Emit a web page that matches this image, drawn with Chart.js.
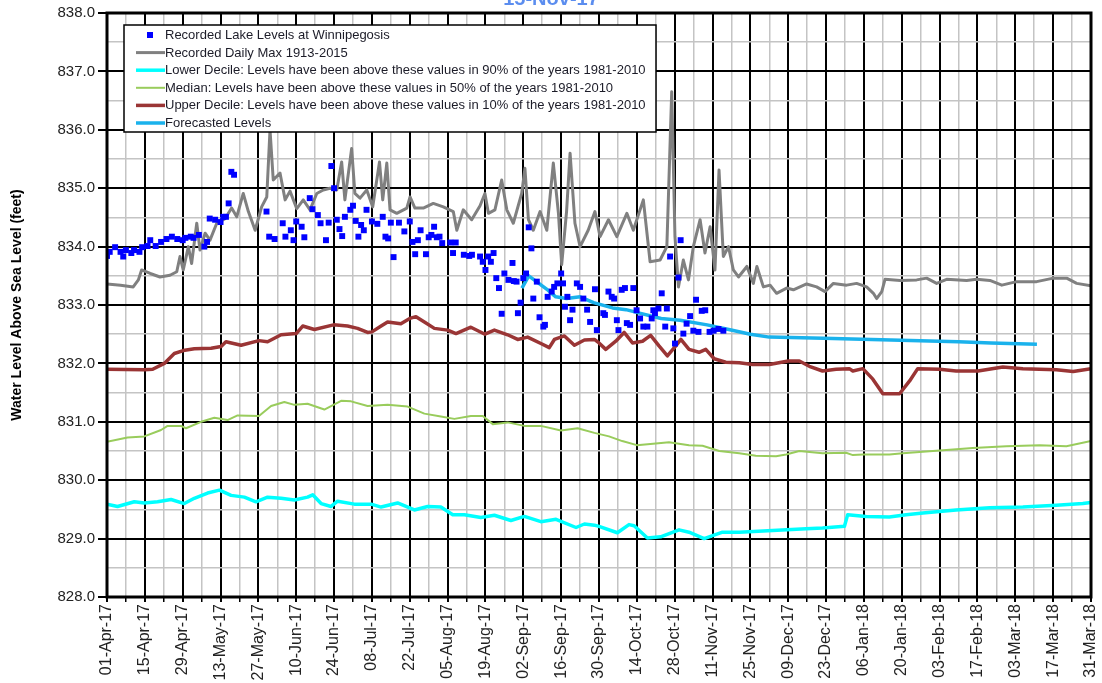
<!DOCTYPE html>
<html>
<head>
<meta charset="utf-8">
<script src="https://cdn.jsdelivr.net/npm/chart.js@4.4.0/dist/chart.umd.min.js"></script>
<style>
  html, body { margin: 0; padding: 0; background: #fff; }
  #wrap { position: relative; width: 1102px; height: 683px; overflow: hidden; }
  #chart { position: absolute; left: 0; top: -20px; }
</style>
</head>
<body>
<div id="wrap"><canvas id="chart" width="1102" height="703"></canvas></div>
<script>
// x values are days since 01-Apr-17
const tickLabels = ["01-Apr-17","15-Apr-17","29-Apr-17","13-May-17","27-May-17","10-Jun-17","24-Jun-17",
  "08-Jul-17","22-Jul-17","05-Aug-17","19-Aug-17","02-Sep-17","16-Sep-17","30-Sep-17","14-Oct-17",
  "28-Oct-17","11-Nov-17","25-Nov-17","09-Dec-17","23-Dec-17","06-Jan-18","20-Jan-18","03-Feb-18",
  "17-Feb-18","03-Mar-18","17-Mar-18","31-Mar-18"];

const lakeDays = [0,1,3,5,6,7,9,10,12,13, 15,16,18,20,22,24,26,28,29,31, 32,34,36,37,38,40,42,43,44,45, 46,47,
  59,60,62,65,66,68,69,70,72,73, 75,76,78,79,81,82,83,84,85,86, 87,88,90,91,92,93,94,95,96,98,
  100,102,103,104,105,106,108,110,112,113, 114,115,116,118,119,120,121,122,123,124,
  127,128,129,132,134,135,138,139,140,141, 142,143,144,145,146,147,148.5,150,150.5,151.5,
  152,153,154,155,156,157,157.7,159,160,161.4, 162,163,164.5,165.4,166.6,168,168.7,169.4,170.3,171.3,
  172.2,173.8,175,176.2,177.6,178.7,180.5,181.2,183.6,184.2, 185.5,186.7,187.6,188.6,189.2,190.4,191.6,192.3,193.5,194.7,
  195.9,197.2,198.4,199.9,201.5,202.1,202.7,204,205.2,206.5, 207.1,208.3,209.5,210.1,211.4,212.2,213.2,214.4,215.7,216.9,
  217.9,218.8,220,221.3,222.9,224.4,226.2,228];
const lakeLevels = [833.84,833.91,833.99,833.91,833.83,833.94,833.89,833.94,833.91,833.99,
  834.01,834.11,834.01,834.08,834.13,834.17,834.13,834.11,834.15,834.17,
  834.15,834.20,834.00,834.08,834.48,834.46,834.42,834.51,834.51,834.74, 835.28,835.23,
  834.60,834.17,834.13,834.40,834.17,834.28,834.11,834.43,834.34,834.16,
  834.83,834.64,834.54,834.40,834.11,834.41,835.38,835.00,834.46,834.30,
  834.18,834.51,834.63,834.70,834.44,834.17,834.37,834.28,834.63,834.43,
  834.39,834.51,834.17,834.14,834.41,833.82,834.41,834.26,834.43,834.08,
  833.87,834.11,834.28,833.87,834.16,834.20,834.34,834.16,834.17,834.06,
  834.07,833.89,834.07,833.86,833.84,833.86,833.83,833.74,833.60,833.83,
  833.74,833.89,833.46,833.29,832.85,833.54,833.43,833.72,833.41,833.40,
  832.86,833.04,833.46,833.54,834.33,833.97,833.11,833.40,832.79,832.63,
  832.66,833.14,833.23,833.31,833.37,833.54,833.37,832.97,833.14,832.74,
  832.92,833.37,833.31,833.11,832.92,832.71,833.27,832.57,832.86,832.83,
  833.23,833.14,833.11,832.74,832.57,833.26,833.29,832.69,832.66,833.29,
  832.91,832.77,832.63,832.63,832.77,832.91,832.86,832.94,833.20,832.63,
  832.94,833.83,832.60,832.34,833.47,834.11,832.51,832.68,832.81,832.56,
  833.09,832.54,832.90,832.91,832.54,832.56,832.59,832.56];

const maxDays = [0,5,9.7,11.6,12.8,16,19.6,23.3,25.8,27,
  28.2,30.1,31.3,33.2,34.4,36.3,38.1,40.6,43.7,46.1,
  48,50.4,52.3,54.8,57.2,59.1,60.3,61.5,64,65.9,
  67.7,70.2,72.6,75.1,77.6,80,82.5,85,86.8,88,
  90.5,91.7,93.6,96.1,98.3,100.8,102,103.5,104.7,107.2,
  110.9,112.1,113.9,117,120.7,124.4,128.1,129.4,131.8,134.9,
  138,139.8,141.1,143.5,146,147.9,150.3,153.4,154.6,155.9,
  157.7,160.2,162.7,165.1,167,168.2,170,171.3,173.1,175,
  178,180.5,182.4,185.5,188.6,192.3,194.7,198.4,200.9,204.6,
  207.1,208.9,210.1,211.4,213.2,215.1,216.9,219.4,221.2,223.1,
  224.9,226.4,228,229.9,231.7,233.6,236.7,239.1,240.4,242.8,
  245.3,247.7,251.4,253.9,258.8,262.5,265.6,268.7,273.6,277.3,
  281,283.5,284.7,286.6,287.8,293.4,299.5,303.2,306.9,310.6,
  318,321.7,326.6,331,336.5,343.9,350.1,355,358.7,364];
const maxLevels = [833.36,833.34,833.31,833.43,833.60,833.54,833.48,833.51,833.57,833.83,
  833.60,834.00,833.71,834.40,833.94,834.23,834.11,834.40,834.48,834.66,
  834.51,834.91,834.60,834.28,834.68,834.85,836.00,835.14,835.26,834.80,
  834.95,834.65,834.80,834.63,834.91,834.97,835.00,834.97,835.45,834.80,
  835.68,834.91,834.83,834.97,834.68,835.45,834.80,835.43,834.63,834.57,
  834.66,834.85,834.66,834.66,834.74,834.68,834.60,834.28,834.63,834.46,
  834.70,834.91,834.57,834.63,835.14,834.63,834.40,834.91,835.34,834.46,
  834.28,834.60,834.28,835.43,834.57,833.69,834.60,835.60,834.40,834.00,
  834.28,834.60,834.17,834.46,834.17,834.57,834.28,834.80,833.74,833.77,
  834.00,836.65,834.17,833.31,833.77,833.43,834.00,834.46,833.89,834.34,
  833.60,835.31,833.83,834.00,833.60,833.48,833.66,833.37,833.66,833.31,
  833.34,833.20,833.29,833.26,833.36,833.31,833.23,833.37,833.34,833.37,
  833.31,833.20,833.11,833.23,833.44,833.42,833.43,833.46,833.37,833.44,
  833.42,833.44,833.42,833.34,833.40,833.40,833.46,833.46,833.37,833.33];

const lowerDays = [0,3.9,10.1,13.8,18.7,23.7,28.6,32.3,37.2,41.6,
  45.9,50.8,55.1,59.4,64.4,69.3,74.2,76.1,79.2,82.9,
  85.3,91.5,97.7,101.4,107.5,113.7,118.6,123.5,127.9,132.2,
  138.3,143.3,149.4,154.4,160.5,166.1,173.5,176.6,180.3,182,
  188.8,193.1,195,199.9,204.8,211.6,215.3,220.9,227.7,233.9,
  246.2,258.6,264.7,272.8,274,280.8,289.4,295.6,301.8,314.1,
  326.5,338.8,351.2,361,364];
const lowerLevels = [829.59,829.55,829.63,829.61,829.63,829.67,829.60,829.69,829.78,829.83,
  829.74,829.71,829.63,829.71,829.69,829.66,829.71,829.75,829.60,829.55,
  829.64,829.59,829.59,829.54,829.61,829.49,829.55,829.54,829.41,829.41,
  829.36,829.40,829.31,829.38,829.29,829.33,829.19,829.25,829.23,829.21,
  829.10,829.24,829.22,829.01,829.03,829.15,829.11,829.00,829.11,829.11,
  829.14,829.17,829.18,829.21,829.41,829.38,829.37,829.41,829.44,829.49,
  829.53,829.54,829.57,829.60,829.62];

const medianDays = [0,7.6,13.8,20,22.4,27.4,29.2,34.8,39.7,44.6,
  48.3,56.2,60.7,65.6,69.3,74.2,80.4,86.6,90.3,96.4,
  103.8,111.2,117.4,123.5,128.5,134.6,139,142.7,148.2,154.4,
  160.5,167.9,174.1,180.3,185.7,190.6,196,203,207.9,215.3,
  220.3,226.5,233.9,240,247.5,251.2,256.1,264.7,273.4,275.9,
  279.6,289.4,294.4,308,320.3,332.7,345,354.9,364];
const medianLevels = [830.66,830.73,830.75,830.86,830.93,830.93,830.89,831.00,831.07,831.03,
  831.11,831.10,831.27,831.34,831.29,831.31,831.21,831.36,831.35,831.27,
  831.29,831.26,831.14,831.09,831.05,831.10,831.10,830.96,830.99,830.93,
  830.93,830.85,830.89,830.81,830.75,830.67,830.60,830.63,830.65,830.60,
  830.59,830.50,830.46,830.42,830.41,830.44,830.50,830.46,830.47,830.43,
  830.44,830.44,830.46,830.51,830.55,830.58,830.60,830.58,830.67];

const upperDays = [0,13.8,16.9,21.2,24.9,28.2,32.3,38.5,42.2,44,
  49.6,56.2,59.4,64.4,70,72.4,76.7,83.8,89,92.7,
  96.4,98,101.4,103.8,108.7,112,114.3,117.4,121.1,126,
  129.1,134.6,139.8,143.3,148.2,151.9,155.6,160.5,163.6,165.5,
  169.2,172.9,176.6,180.3,182,184.5,188.2,191.3,194.4,198.1,
  201.1,204.2,207.3,210.4,212.3,215.3,219,221.5,224.6,228.9,
  233.9,238.8,245,252,256.1,259.8,264.7,269.7,274.6,275.9,
  279.6,283.3,287,293.2,296.9,299.9,308,314.1,322.2,331.4,
  338.8,351.2,357.4,364];
const upperLevels = [831.90,831.89,831.90,832.00,832.17,832.22,832.25,832.26,832.29,832.37,
  832.31,832.39,832.37,832.49,832.51,832.64,832.58,832.66,832.64,832.60,
  832.53,832.54,832.64,832.71,832.68,832.77,832.80,832.71,832.60,832.57,
  832.51,832.62,832.50,832.57,832.49,832.41,832.45,832.34,832.27,832.41,
  832.47,832.31,832.40,832.41,832.35,832.24,832.38,832.53,832.35,832.38,
  832.48,832.30,832.13,832.30,832.41,832.24,832.19,832.24,832.08,832.02,
  832.01,831.98,831.98,832.04,832.04,831.95,831.87,831.90,831.91,831.87,
  831.91,831.73,831.48,831.48,831.70,831.91,831.90,831.87,831.87,831.94,
  831.91,831.89,831.86,831.91];

const forecastDays = [153.5,156,158,163,166,170,175,180,187,192,197,205,212,222,230,238,245,265,290,315,327,344];
const forecastLevels = [833.29,833.50,833.43,833.26,833.14,833.11,833.14,833.04,832.95,832.92,832.86,
  832.77,832.74,832.66,832.58,832.50,832.45,832.43,832.40,832.37,832.35,832.33];

function pts(days, vals) {
  return days.map((d, i) => ({ x: d, y: vals[i] }));
}

const FONT = '"Liberation Sans", Arial, sans-serif';
Chart.defaults.font.family = FONT;

// thick frame around the plot area
const frame = {
  id: 'frame',
  afterDatasetsDraw(chart) {
    const { ctx, chartArea: a } = chart;
    ctx.save();
    ctx.strokeStyle = '#000';
    ctx.lineWidth = 3;
    ctx.strokeRect(a.left, a.top, a.right - a.left, a.bottom - a.top);
    ctx.restore();
  }
};

// boxed legend inside the plot, upper left
const legendBox = {
  id: 'legendBox',
  afterDatasetsDraw(chart) {
    const { ctx, chartArea: a } = chart;
    const x = a.left + 17, y = a.top + 12, w = 532, h = 107;
    ctx.save();
    ctx.fillStyle = '#fff';
    ctx.fillRect(x, y, w, h);
    ctx.strokeStyle = '#000';
    ctx.lineWidth = 1.5;
    ctx.strokeRect(x, y, w, h);
    ctx.font = '13px ' + FONT;
    ctx.textBaseline = 'middle';
    chart.data.datasets.forEach((ds, row) => {
      const cy = y + 10 + row * 17.6;
      if (ds.showLine === false) {
        ctx.fillStyle = ds.backgroundColor;
        ctx.fillRect(x + 23, cy - 3, 6, 6);
      } else {
        ctx.strokeStyle = ds.borderColor;
        ctx.lineWidth = ds.borderWidth;
        ctx.beginPath();
        ctx.moveTo(x + 12, cy);
        ctx.lineTo(x + 41, cy);
        ctx.stroke();
      }
      ctx.fillStyle = '#1c1c28';
      ctx.fillText(ds.label, x + 41, cy + 0.5);
    });
    ctx.restore();
  }
};

new Chart(document.getElementById('chart'), {
  type: 'line',
  data: {
    datasets: [
      {
        label: 'Recorded Lake Levels at Winnipegosis',
        data: pts(lakeDays, lakeLevels),
        showLine: false,
        pointStyle: 'rect',
        pointRadius: 4.2,
        pointBorderWidth: 0,
        backgroundColor: '#0000ff',
        borderColor: '#0000ff'
      },
      {
        label: 'Recorded Daily Max 1913-2015',
        data: pts(maxDays, maxLevels),
        borderColor: '#808080',
        borderWidth: 3,
        pointRadius: 0
      },
      {
        label: 'Lower Decile: Levels have been above these values in 90% of the years 1981-2010',
        data: pts(lowerDays, lowerLevels),
        borderColor: '#00ffff',
        borderWidth: 3.5,
        pointRadius: 0
      },
      {
        label: 'Median: Levels have been above these values in 50% of the years 1981-2010',
        data: pts(medianDays, medianLevels),
        borderColor: '#99cc5c',
        borderWidth: 2,
        pointRadius: 0
      },
      {
        label: 'Upper Decile: Levels have been above these values in 10% of the years 1981-2010',
        data: pts(upperDays, upperLevels),
        borderColor: '#9a3535',
        borderWidth: 3.5,
        pointRadius: 0
      },
      {
        label: 'Forecasted Levels',
        data: pts(forecastDays, forecastLevels),
        borderColor: '#1ab2ec',
        borderWidth: 3.5,
        pointRadius: 0
      }
    ]
  },
  options: {
    responsive: false,
    animation: false,
    layout: { padding: { left: 0, right: 0, top: 0, bottom: 0 } },
    elements: { line: { tension: 0, borderJoinStyle: 'round' } },
    plugins: {
      legend: { display: false },
      tooltip: { enabled: false },
      title: {
        display: true,
        text: '15-Nov-17',
        color: '#5b8def',
        font: { size: 20, weight: 'bold' },
        padding: { top: 7, bottom: 2 }
      }
    },
    scales: {
      x: {
        type: 'linear',
        min: 0,
        max: 364,
        afterFit: s => { s.height = 86; s.paddingRight = 11; s.paddingLeft = 10; },
        border: { display: false },
        grid: {
          color: c => (c.tick && Math.round(c.tick.value) % 14 === 0) ? '#000' : '#c4c4c4',
          lineWidth: c => (c.tick && Math.round(c.tick.value) % 14 === 0) ? 2 : 1.5,
          tickColor: '#000',
          tickLength: 5
        },
        ticks: {
          stepSize: 7,
          autoSkip: false,
          minRotation: 90,
          maxRotation: 90,
          padding: 2,
          color: '#222',
          font: { size: 16 },
          callback: v => Math.round(v) % 14 === 0 ? tickLabels[Math.round(v) / 14] : ''
        }
      },
      y: {
        min: 828,
        max: 838,
        afterFit: s => { s.width = 107; },
        border: { display: false },
        grid: {
          color: c => (c.tick && Number.isInteger(c.tick.value)) ? '#000' : '#c4c4c4',
          lineWidth: c => (c.tick && Number.isInteger(c.tick.value)) ? 2 : 1.5,
          tickColor: c => (c.tick && Number.isInteger(c.tick.value)) ? '#000' : 'rgba(0,0,0,0)',
          tickLength: 9
        },
        ticks: {
          stepSize: 0.5,
          padding: 3,
          color: '#222',
          font: { size: 15 },
          callback: v => Number.isInteger(v) ? v.toFixed(1) : ''
        },
        title: {
          display: true,
          text: 'Water Level Above Sea Level (feet)',
          color: '#000',
          font: { size: 14, weight: 'bold' },
          padding: { top: 9, bottom: 0 }
        }
      }
    }
  },
  plugins: [frame, legendBox]
});
</script>
</body>
</html>
